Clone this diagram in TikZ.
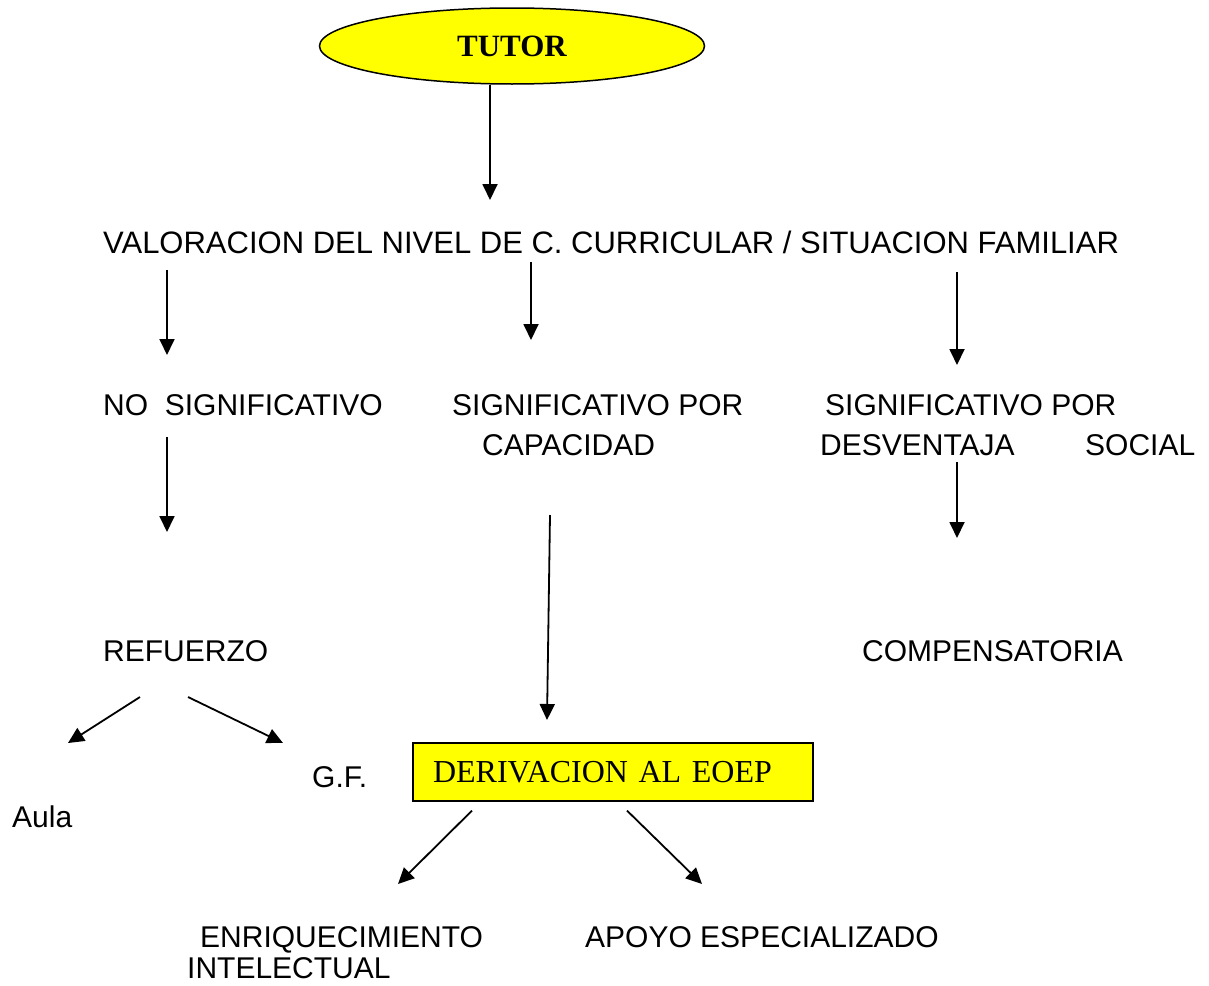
\documentclass[tikz,border=0pt]{standalone}
\usepackage{fontspec}
\setmainfont{Liberation Sans}
\newfontfamily\timesfont{Liberation Serif}
\usetikzlibrary{arrows.meta,shapes.geometric}
\definecolor{boxyellow}{RGB}{255,255,0}
\tikzset{
    lbl/.style={anchor=base west, inner sep=0pt, text depth=0pt, font=\fontsize{30}{36}\selectfont},
    arr/.style={line width=1.8pt, -{Triangle[length=16pt,width=15pt]}},
}
\begin{document}
\begin{tikzpicture}[x=1pt,y=-1pt]
    \useasboundingbox (0,0) rectangle (1209,985);
    \node[ellipse, draw, line width=1.5pt, fill=boxyellow, minimum width=385pt, minimum height=76pt,
        font=\timesfont\bfseries\fontsize{31}{36}\selectfont] (tutor) at (512,46) {TUTOR};
    \node[lbl, font=\fontsize{31}{36}\selectfont] (valoracion) at (103,253) {VALORACION DEL NIVEL DE C. CURRICULAR / SITUACION FAMILIAR};
    \coordinate (t1) at (490,200);
    \draw[arr] (tutor.south -| t1) -- (t1);
    % tres ramas
    \node[lbl] (nosig) at (103,415) {NO\ \ SIGNIFICATIVO};
    \node[lbl] (sigcap) at (452,415) {SIGNIFICATIVO POR};
    \node[lbl] (capacidad) at (482,455) {CAPACIDAD};
    \node[lbl] (sigdes) at (825,415) {SIGNIFICATIVO POR};
    \node[lbl] (desventaja) at (820,455) {DESVENTAJA};
    \node[lbl] (social) at (1085,455) {SOCIAL};
    \coordinate (v1) at (167,270); \coordinate (n1) at (167,355);
    \coordinate (v2) at (531,262); \coordinate (n2) at (531,340);
    \coordinate (v3) at (957,272); \coordinate (n3) at (957,365);
    \draw[arr] (v1) -- (n1);
    \draw[arr] (v2) -- (n2);
    \draw[arr] (v3) -- (n3);
    \node[lbl] (refuerzo) at (103,661) {REFUERZO};
    \node[lbl] (compensatoria) at (862,661) {COMPENSATORIA};
    \coordinate (s1) at (167,437); \coordinate (r1) at (167,532);
    \coordinate (s2) at (550,515); \coordinate (d1) at (547,720);
    \coordinate (s3) at (957,462); \coordinate (c1) at (957,538);
    \draw[arr] (s1) -- (r1);
    \draw[arr] (s2) -- (d1);
    \draw[arr] (s3) -- (c1);
    % refuerzo
    \node[lbl] (gf) at (312,787) {G.F.};
    \node[lbl] (aula) at (12,827) {Aula};
    \coordinate (f1) at (140,697); \coordinate (a1) at (68,743);
    \coordinate (f2) at (188,697); \coordinate (g1) at (283,743);
    \draw[arr] (f1) -- (a1);
    \draw[arr] (f2) -- (g1);
    % derivacion
    \node[draw, line width=1.2pt, fill=boxyellow, minimum height=58pt, text width=360pt, inner xsep=20pt,
        align=left, font=\timesfont\fontsize{32}{36}\selectfont] (derivacion) at (613,772) {DERIVACION AL EOEP};
    \node[lbl] (enriq) at (200,947) {ENRIQUECIMIENTO};
    \node[lbl] (intelectual) at (187,978) {INTELECTUAL};
    \node[lbl] (apoyo) at (585,947) {APOYO ESPECIALIZADO};
    \coordinate (e1) at (398,884); \coordinate (p1) at (702,884);
    \draw[arr] (derivacion.south -| 472,0) ++(0,9) -- (e1);
    \draw[arr] (derivacion.south -| 627,0) ++(0,9) -- (p1);
\end{tikzpicture}
\end{document}
